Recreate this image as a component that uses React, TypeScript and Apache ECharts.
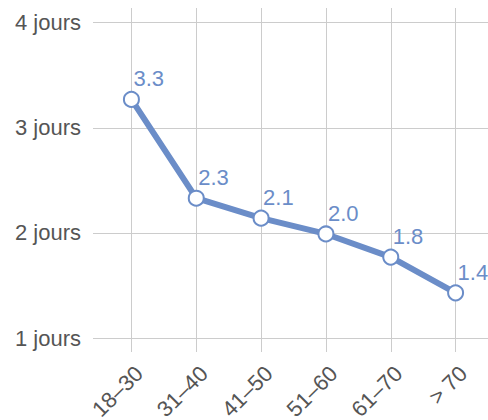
import React, { useEffect, useRef } from "react";
import * as echarts from "echarts";

const categories = ["18–30", "31–40", "41–50", "51–60", "61–70", "> 70"];
const values = [3.27, 2.33, 2.14, 1.99, 1.77, 1.43];
const yTicks = [1, 2, 3, 4];

const BLUE = "#6b8dc8";
const GRID = "#cccccc";
const TEXT = "#555555";
const FONT = "'Liberation Sans', Arial, Helvetica, sans-serif";

export default function App() {
  const ref = useRef<HTMLDivElement>(null);
  useEffect(() => {
    document.body.style.margin = "0";
    const chart = echarts.init(ref.current!, null, { renderer: "svg" });
    chart.setOption({
      animation: false,
      textStyle: { fontFamily: FONT },
      grid: { left: 99, right: 0, top: 8, bottom: 82, containLabel: false, outerBoundsMode: "none" },
      xAxis: {
        type: "category",
        data: categories,
        boundaryGap: true,
        axisLine: { show: false },
        axisTick: { show: true, alignWithLabel: true, length: 14, lineStyle: { color: GRID } },
        splitLine: { show: true, alignWithLabel: true, lineStyle: { color: GRID, width: 1 } },
        axisLabel: {
          rotate: 45,
          margin: 24,
          fontSize: 22,
          color: TEXT,
          fontFamily: FONT,
          interval: 0,
          verticalAlign: "top",
          padding: [0, 0, 0, 0],
        },
      },
      yAxis: {
        type: "value",
        min: 1,
        max: 4.14,
        interval: 1,
        axisLine: { show: false },
        axisTick: { show: true, length: 6, customValues: yTicks, lineStyle: { color: GRID } },
        splitLine: { show: true, lineStyle: { color: GRID, width: 1 } },
        axisLabel: {
          customValues: yTicks,
          margin: 18,
          fontSize: 22,
          color: TEXT,
          fontFamily: FONT,
          formatter: (v: number) => (Number.isInteger(v) ? `${v} jours` : ""),
        },
      },
      series: [
        {
          type: "line",
          data: values,
          symbol: "circle",
          symbolSize: 15,
          lineStyle: { color: BLUE, width: 6 },
          itemStyle: { color: "#ffffff", borderColor: BLUE, borderWidth: 2 },
          label: {
            show: true,
            position: "top",
            align: "left",
            offset: [2, 4],
            fontSize: 22,
            color: BLUE,
            fontFamily: FONT,
            formatter: (p: any) => (p.value as number).toFixed(1),
          },
        },
      ],
    });
    return () => chart.dispose();
  }, []);
  return <div ref={ref} style={{ width: 488, height: 420 }} />;
}
